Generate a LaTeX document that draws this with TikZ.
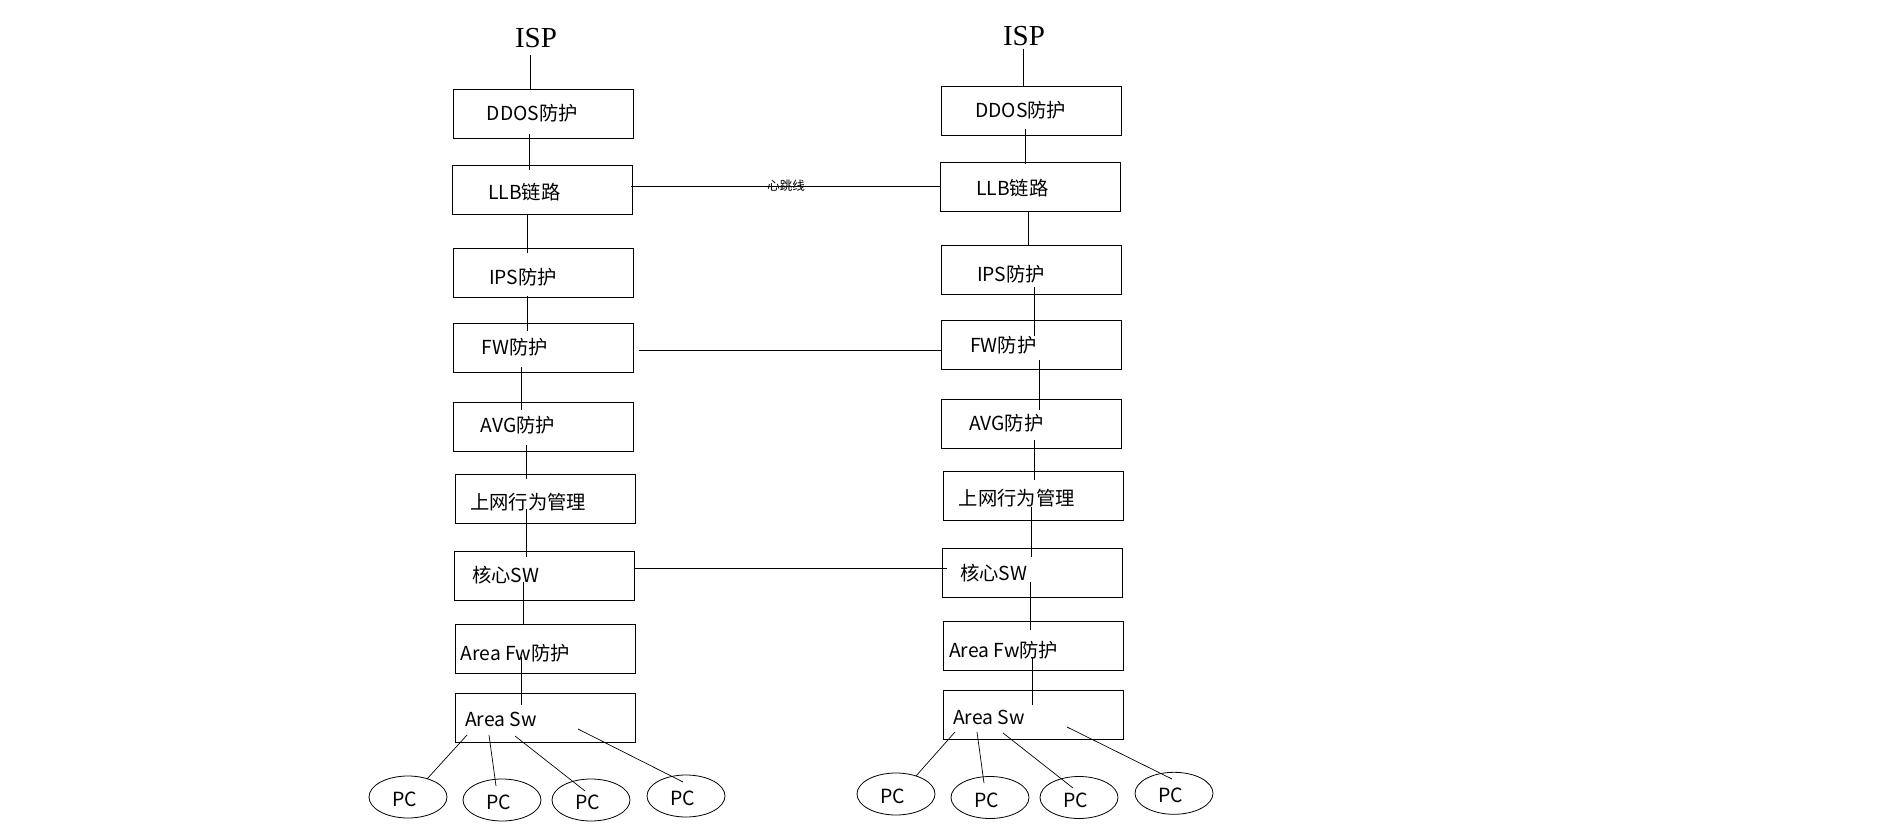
\documentclass[tikz,border=0pt]{standalone}
\usepackage{fontspec}
\setmainfont{Noto Sans CJK SC}
\newfontfamily\ispfont{Liberation Serif}
\usetikzlibrary{shapes.geometric}
\begin{document}
\begin{tikzpicture}[x=1pt,y=-1pt,
  box/.style={draw,line width=1pt,minimum width=180pt,minimum height=49pt,inner sep=0pt},
  lbl/.style={anchor=west,inner sep=0pt,font=\fontsize{19.3}{20}\selectfont},
  isp/.style={inner sep=0pt,font=\ispfont\fontsize{29}{30}\selectfont},
  pc/.style={draw,ellipse,line width=0.8pt,minimum width=78pt,minimum height=42pt,inner sep=0pt},
  pctext/.style={inner sep=0pt,font=\fontsize{19.5}{20}\selectfont},
  conn/.style={line width=0.9pt},
  thin/.style={line width=0.7pt}]
\useasboundingbox (0,0) rectangle (1891,834);
\fill[white] (0,0) rectangle (1891,834);
% ---------- left column ----------
\node[isp] (ispL) at (536,38) {ISP};
\node[box] (ddosL) at (543,114.5) {};
\node[box] (llbL) at (542.5,190.5) {};
\node[box] (ipsL) at (543,273.5) {};
\node[box] (fwL) at (543,348.5) {};
\node[box] (avgL) at (543,426.5) {};
\node[box] (swmL) at (545,498.5) {};
\node[box] (coreL) at (544,575.5) {};
\node[box] (afwL) at (545,648.5) {};
\node[box] (aswL) at (545,717.5) {};
\node[lbl] (tddosL) at (486.7,113) {DDOS防护};
\node[lbl] (tllbL) at (488,192) {LLB链路};
\node[lbl] (tipsL) at (489,277) {IPS防护};
\node[lbl] (tfwL) at (481.7,347) {FW防护};
\node[lbl] (tavgL) at (480.7,425) {AVG防护};
\node[lbl] (tswmL) at (470,502) {上网行为管理};
\node[lbl] (tcoreL) at (472,575) {核心SW};
\node[lbl] (tafwL) at (460.7,653) {Area Fw防护};
\node[lbl] (taswL) at (465,719) {Area Sw};
\node[pc] (pcL1) at (408,797) {};
\node[pc] (pcL2) at (502,800) {};
\node[pc] (pcL3) at (591,800) {};
\node[pc] (pcL4) at (686,796) {};
\node[pctext] (tpcL1) at (405,799.5) {PC};
\node[pctext] (tpcL2) at (499,802.5) {PC};
\node[pctext] (tpcL3) at (588,802.5) {PC};
\node[pctext] (tpcL4) at (683,798.5) {PC};
% ---------- right column ----------
\node[isp] (ispR) at (1024,36) {ISP};
\node[box] (ddosR) at (1031.5,111.5) {};
\node[box] (llbR) at (1030,187.5) {};
\node[box] (ipsR) at (1031.5,270.5) {};
\node[box] (fwR) at (1031.5,345.5) {};
\node[box] (avgR) at (1031.5,423.5) {};
\node[box] (swmR) at (1033,495.5) {};
\node[box] (coreR) at (1032.5,572.5) {};
\node[box] (afwR) at (1033,645.5) {};
\node[box] (aswR) at (1033,714.5) {};
\node[lbl] (tddosR) at (975,110) {DDOS防护};
\node[lbl] (tllbR) at (976,188) {LLB链路};
\node[lbl] (tipsR) at (977,274) {IPS防护};
\node[lbl] (tfwR) at (970,345) {FW防护};
\node[lbl] (tavgR) at (969,423) {AVG防护};
\node[lbl] (tswmR) at (958.7,498) {上网行为管理};
\node[lbl] (tcoreR) at (960,573) {核心SW};
\node[lbl] (tafwR) at (949,650) {Area Fw防护};
\node[lbl] (taswR) at (953,717) {Area Sw};
\node[pc] (pcR1) at (896,794) {};
\node[pc] (pcR2) at (990,797.5) {};
\node[pc] (pcR3) at (1079,797.5) {};
\node[pc] (pcR4) at (1174,793.3) {};
\node[pctext] (tpcR1) at (893,796.5) {PC};
\node[pctext] (tpcR2) at (987,800) {PC};
\node[pctext] (tpcR3) at (1076,800) {PC};
\node[pctext] (tpcR4) at (1171,795.8) {PC};
% ---------- connector end points ----------
\coordinate (a1) at (530,55);   \coordinate (b1) at (530,90);
\coordinate (a2) at (529,134);  \coordinate (b2) at (529,170);
\coordinate (a3) at (527,215);  \coordinate (b3) at (527,253);
\coordinate (a4) at (527,296);  \coordinate (b4) at (527,331);
\coordinate (a5) at (521,367);  \coordinate (b5) at (521,410);
\coordinate (a6) at (526,445);  \coordinate (b6) at (526,479);
\coordinate (a7) at (526,509);  \coordinate (b7) at (526,557);
\coordinate (a8) at (523,582);  \coordinate (b8) at (523,624);
\coordinate (a9) at (521,657);  \coordinate (b9) at (521,705);
\coordinate (c1) at (1023,49);  \coordinate (d1) at (1023,87);
\coordinate (c2) at (1025,129); \coordinate (d2) at (1025,164);
\coordinate (c3) at (1028,212); \coordinate (d3) at (1028,246);
\coordinate (c4) at (1034,287); \coordinate (d4) at (1034,336);
\coordinate (c5) at (1039,360); \coordinate (d5) at (1039,410);
\coordinate (c6) at (1034,440); \coordinate (d6) at (1034,480);
\coordinate (c7) at (1031,507); \coordinate (d7) at (1031,557);
\coordinate (c8) at (1030,582); \coordinate (d8) at (1030,630);
\coordinate (c9) at (1032,658); \coordinate (d9) at (1032,705);
\coordinate (h1a) at (631,186); \coordinate (h1b) at (941,186);
\coordinate (h2a) at (639,350); \coordinate (h2b) at (941,350);
\coordinate (h3a) at (634,568); \coordinate (h3b) at (947,568);
\coordinate (pl1) at (467,735); \coordinate (ql1) at (427,779);
\coordinate (pl2) at (489,735); \coordinate (ql2) at (496,786);
\coordinate (pl3) at (515,736); \coordinate (ql3) at (585,791);
\coordinate (pl4) at (578,729); \coordinate (ql4) at (683,782);
\coordinate (pr1) at (955,732); \coordinate (qr1) at (916,776);
\coordinate (pr2) at (977,732); \coordinate (qr2) at (984,783);
\coordinate (pr3) at (1003,733); \coordinate (qr3) at (1073,788);
\coordinate (pr4) at (1067,727); \coordinate (qr4) at (1172,779);
% ---------- connectors ----------
\foreach \i in {1,...,9} {
  \draw[conn] (a\i) -- (b\i);
  \draw[conn] (c\i) -- (d\i);
}
\draw[conn] (h1a) -- node[inner sep=0pt,font=\fontsize{12.5}{13}\selectfont] (hb) {心跳线} (h1b);
\draw[conn] (h2a) -- (h2b);
\draw[conn] (h3a) -- (h3b);
\foreach \i in {1,...,4} {
  \draw[thin] (pl\i) -- (ql\i);
  \draw[thin] (pr\i) -- (qr\i);
}
\end{tikzpicture}
\end{document}
